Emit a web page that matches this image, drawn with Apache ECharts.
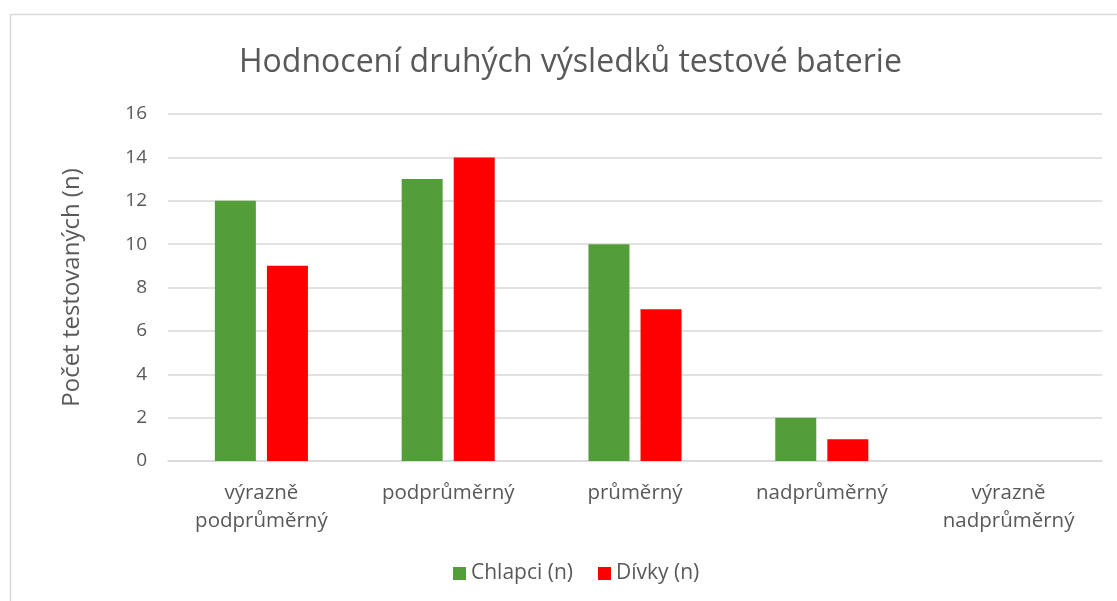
<!DOCTYPE html>
<html><head><meta charset="utf-8">
<script src="https://cdn.jsdelivr.net/npm/echarts@6/dist/echarts.min.js"></script>
<style>html,body{margin:0;padding:0;background:#fff}#c{width:1117px;height:601px}</style>
</head><body><div id="c"></div>
<script>
const categories = ['výrazně\npodprůměrný', 'podprůměrný', 'průměrný', 'nadprůměrný', 'výrazně\nnadprůměrný'];
const chlapci = [12, 13, 10, 2, 0];
const divky = [9, 14, 7, 1, 0];
const seriesNames = ['Chlapci (n)', 'Dívky (n)'];
const title = 'Hodnocení druhých výsledků testové baterie';
const yName = 'Počet testovaných (n)';
const FONT = '"Open Sans", sans-serif';
const chart = echarts.init(document.getElementById('c'));
chart.setOption({
  backgroundColor: '#fff',
  animation: false,
  textStyle: { fontFamily: FONT },
  graphic: [{ type: 'rect', shape: { x: 10.5, y: 14.5, width: 1200, height: 700 }, style: { fill: 'none', stroke: '#d9d9d9', lineWidth: 1.5 }, silent: true }],
  title: { text: title, left: 234, top: 42, textStyle: { fontFamily: FONT, fontSize: 32, fontWeight: 'normal', color: '#595959' } },
  legend: { bottom: 12, left: 448, itemWidth: 13, itemHeight: 13, itemGap: 25, icon: 'rect',
    textStyle: { fontFamily: FONT, fontSize: 21, color: '#595959' }, data: seriesNames },
  grid: { left: 168, right: 15, top: 114, bottom: 140 },
  xAxis: { type: 'category', data: categories,
    axisLine: { lineStyle: { color: '#d9d9d9', width: 1.5 } }, axisTick: { show: false },
    axisLabel: { fontFamily: FONT, fontSize: 20.5, color: '#595959', margin: 18, lineHeight: 28, interval: 0 } },
  yAxis: { type: 'value', min: 0, max: 16, interval: 2, name: yName, nameLocation: 'middle', nameGap: 84,
    nameTextStyle: { fontFamily: FONT, fontSize: 24, color: '#595959' },
    axisLine: { show: false }, axisTick: { show: false },
    axisLabel: { fontFamily: FONT, fontSize: 19, color: '#595959', margin: 21 },
    splitLine: { lineStyle: { color: '#d9d9d9', width: 1.5 } } },
  series: [
    { name: seriesNames[0], type: 'bar', data: chlapci, barWidth: 41, barGap: '27%', itemStyle: { color: '#549e39' } },
    { name: seriesNames[1], type: 'bar', data: divky, barWidth: 41, itemStyle: { color: '#ff0000' } }
  ]
});
</script></body></html>
